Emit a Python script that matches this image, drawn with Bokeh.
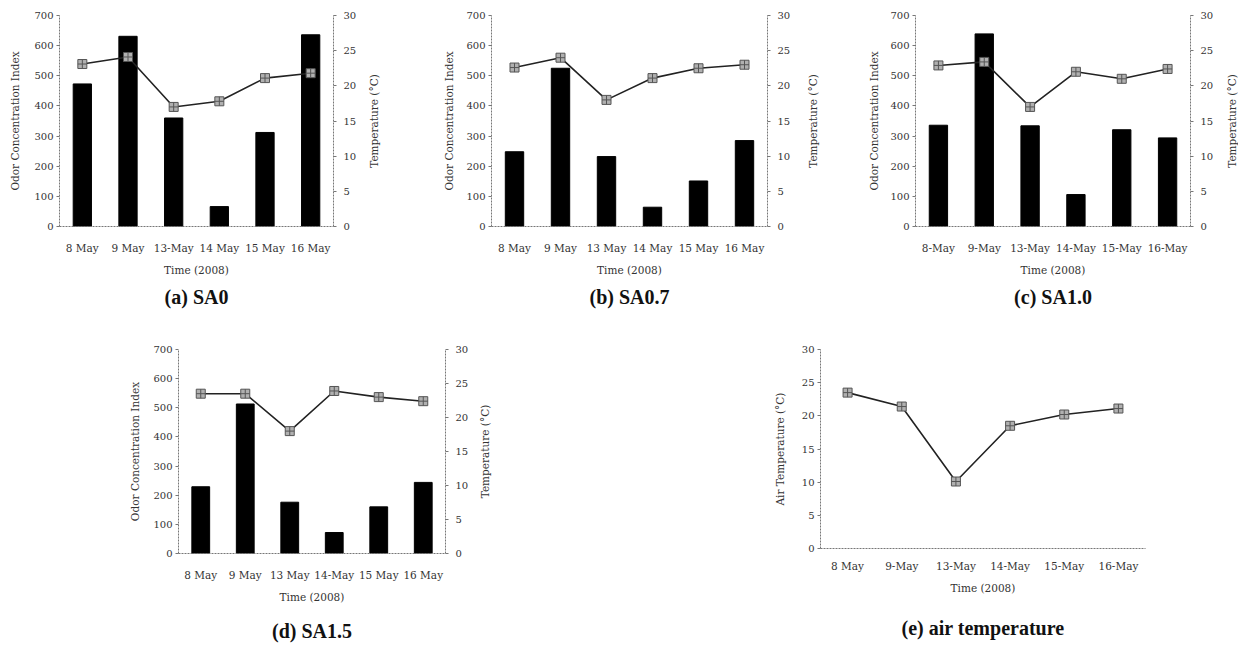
import math
from bokeh.plotting import figure
from bokeh.models import Range1d, FactorRange, LinearAxis, FixedTicker, Title
from bokeh.core.properties import value
from bokeh.layouts import row, column
from bokeh.embed import file_html
from bokeh.resources import INLINE

# ---------------- data ----------------
dates_a = ["8 May", "9 May", "13-May", "14 May", "15 May", "16 May"]
odor_a = [473, 631, 360, 66, 312, 636]
temp_a = [23.1, 24.1, 17.0, 17.8, 21.1, 21.8]

dates_b = ["8 May", "9 May", "13 May", "14 May", "15 May", "16 May"]
odor_b = [248, 525, 232, 64, 151, 285]
temp_b = [22.6, 24.0, 18.0, 21.1, 22.5, 23.0]

dates_c = ["8-May", "9-May", "13-May", "14-May", "15-May", "16-May"]
odor_c = [336, 639, 334, 106, 321, 294]
temp_c = [22.9, 23.4, 17.0, 22.0, 21.0, 22.4]

dates_d = ["8 May", "9 May", "13 May", "14-May", "15 May", "16 May"]
odor_d = [229, 513, 176, 72, 160, 244]
temp_d = [23.5, 23.5, 18.0, 23.9, 23.0, 22.4]

dates_e = ["8 May", "9-May", "13-May", "14-May", "15-May", "16-May"]
air_temp_e = [23.5, 21.4, 10.1, 18.5, 20.2, 21.1]

odor_ticks = [0, 100, 200, 300, 400, 500, 600, 700]
temp_ticks = [0, 5, 10, 15, 20, 25, 30]

captions = ["(a) SA0", "(b) SA0.7", "(c) SA1.0", "(d) SA1.5", "(e) air temperature"]
x_title = "Time (2008)"
odor_title = "Odor Concentration Index"
temp_title = "Temperature (\u00b0C)"
air_title = "Air Temperature (\u00b0C)"

# ---------------- style ----------------
FONT = "DejaVu Serif"
TXT = "#333333"
AXC = "#777777"
CAP_FONT = "Liberation Serif"


def style_axis(ax, label, standoff, tick_font="10px"):
    ax.axis_label = label
    ax.axis_label_text_font = FONT
    ax.axis_label_text_font_style = "normal"
    ax.axis_label_text_font_size = "10.5px"
    ax.axis_label_text_color = TXT
    ax.axis_label_standoff = standoff
    ax.major_label_text_font = FONT
    ax.major_label_text_font_size = tick_font
    ax.major_label_text_color = TXT
    ax.axis_line_color = AXC
    ax.axis_line_dash = "2 1"
    ax.major_tick_line_color = AXC
    ax.minor_tick_line_color = None


def base_fig(dates, fw, fh, left, right, top, bottom, tick_stand, lab_stand):
    p = figure(x_range=FactorRange(*dates), frame_width=fw, frame_height=fh,
               min_border_left=left, min_border_right=right,
               min_border_top=top, min_border_bottom=bottom,
               output_backend="svg", toolbar_location=None)
    p.outline_line_color = None
    p.xgrid.grid_line_color = None
    p.ygrid.grid_line_color = None
    p.background_fill_color = "white"
    p.border_fill_color = "white"
    xa = p.xaxis[0]
    style_axis(xa, x_title, lab_stand, tick_font="10.5px")
    xa.major_tick_out = 0
    xa.major_tick_in = 0
    xa.major_label_standoff = tick_stand
    return p


def add_caption(p, text, standoff):
    t = Title(text=text, align="center", text_font=CAP_FONT,
              text_font_style="bold", text_font_size="20px",
              text_color="#111111", standoff=standoff)
    p.add_layout(t, "below")


def panel(dates, odor, temp, caption, fw, fh, left, right, top, bottom,
          lstand, tick_stand, lab_stand, cap_stand):
    p = base_fig(dates, fw, fh, left, right, top, bottom, tick_stand, lab_stand)
    p.y_range = Range1d(0, 700)
    ya = p.yaxis[0]
    ya.ticker = FixedTicker(ticks=odor_ticks)
    style_axis(ya, odor_title, lstand)
    ya.major_tick_out = 3
    ya.major_tick_in = 0
    ya.major_label_standoff = 3

    p.extra_y_ranges = {"temp": Range1d(0, 30)}
    ra = LinearAxis(y_range_name="temp", ticker=FixedTicker(ticks=temp_ticks))
    style_axis(ra, "", 0)
    ra.axis_label = None
    ra.major_tick_out = 3
    ra.major_tick_in = 0
    ra.major_label_standoff = 7
    p.add_layout(ra, "right")

    p.vbar(x=dates, top=odor, width=0.4, fill_color="black", line_color="black")
    p.line(x=dates, y=temp, y_range_name="temp", line_color="#222222", line_width=1.6)
    p.scatter(x=dates, y=temp, y_range_name="temp", marker="square_cross", size=9,
              fill_color="#b0b0b0", line_color="#555555", line_width=1)
    add_caption(p, caption, cap_stand)
    return p


def side_title(text, w, fh, top, offset):
    """Narrow strip holding the right-hand axis title, read bottom-to-top."""
    q = figure(frame_width=w, frame_height=fh, x_range=Range1d(0, w), y_range=Range1d(0, 1),
               min_border_left=0, min_border_right=0, min_border_top=top,
               min_border_bottom=0, x_axis_location=None, y_axis_location=None,
               output_backend="svg", toolbar_location=None)
    q.outline_line_color = None
    q.xgrid.grid_line_color = None
    q.ygrid.grid_line_color = None
    q.text(x=[offset], y=[0.5], text=[text], angle=math.pi / 2,
           text_align="center", text_baseline="middle",
           text_font=value(FONT), text_font_size="10.5px", text_color=TXT)
    return q


T1, B1, RB = 15, 95, 26
pa = panel(dates_a, odor_a, temp_a, captions[0], 274, 211, 59, RB, T1, B1, 10, 15, 7, 10)
la = side_title(temp_title, 62, 211, T1, 14)
pb = panel(dates_b, odor_b, temp_b, captions[1], 276, 211, 70, RB, T1, B1, 8, 15, 7, 10)
lb = side_title(temp_title, 43, 211, T1, 19)
pc = panel(dates_c, odor_c, temp_c, captions[2], 275, 211, 79, RB, T1, B1, 7, 15, 7, 10)
lc = side_title(temp_title, 22, 211, T1, 15)

T2 = 28
pd_ = panel(dates_d, odor_d, temp_d, captions[3], 267, 204, 178, RB, T2, 95, 9, 15, 7, 24)
ld = side_title(temp_title, 147, 204, T2, 13)

# panel e
pe = base_fig(dates_e, 325, 199, 202, 90, T2, 100, 11, 7)
pe.y_range = Range1d(0, 30)
ye = pe.yaxis[0]
ye.ticker = FixedTicker(ticks=temp_ticks)
style_axis(ye, air_title, 13)
ye.major_tick_out = 3
ye.major_tick_in = 0
ye.major_label_standoff = 3
pe.line(x=dates_e, y=air_temp_e, line_color="#222222", line_width=1.6)
pe.scatter(x=dates_e, y=air_temp_e, marker="square_cross", size=9,
           fill_color="#b0b0b0", line_color="#555555", line_width=1)
add_caption(pe, captions[4], 36)

layout = column(row(pa, la, pb, lb, pc, lc), row(pd_, ld, pe))

open("out.html", "w").write(file_html(layout, INLINE))
